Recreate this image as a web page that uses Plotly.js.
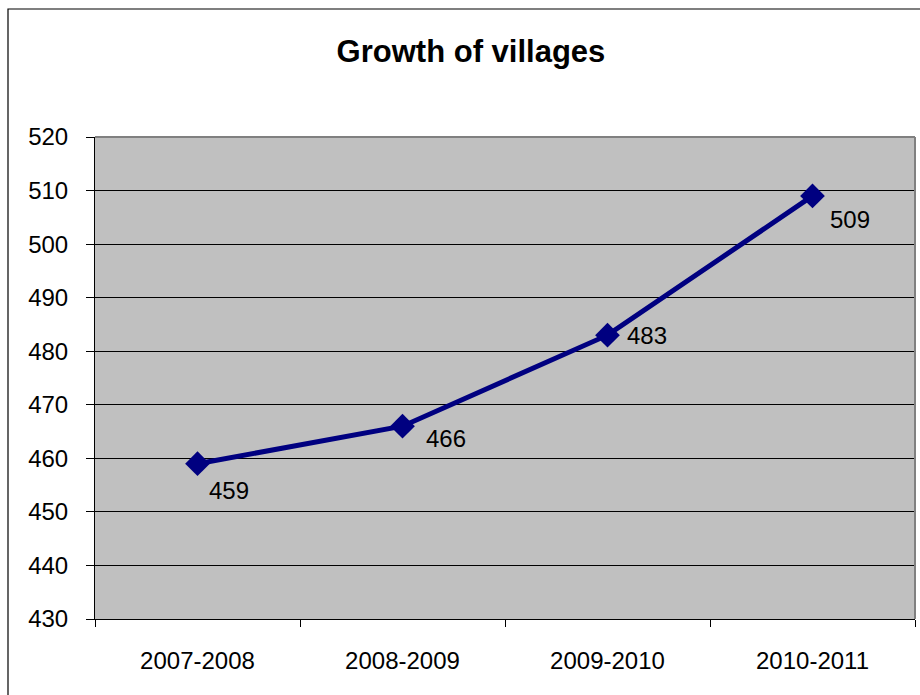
<!DOCTYPE html>
<html>
<head>
<meta charset="utf-8">
<script src="https://cdn.plot.ly/plotly-3.0.1.min.js"></script>
<style>
  html, body { margin: 0; padding: 0; background: #fff; }
  #chart { width: 920px; height: 695px; }
</style>
</head>
<body>
<div id="chart"></div>
<script>
const titleText = "Growth of villages";
const categories = ["2007-2008", "2008-2009", "2009-2010", "2010-2011"];
const villages = [459, 466, 483, 509];
const yTicks = [430, 440, 450, 460, 470, 480, 490, 500, 510, 520];

// label offsets (pixels) approximating the reference's label placement
const labelDx = [9, 21, 17, 15];
const labelDy = [-27, -12, 0, -24];

const FONT = "Liberation Sans, Arial, sans-serif";

const trace = {
  type: "scatter",
  mode: "lines+markers",
  x: categories,
  y: villages,
  line: { color: "#000080", width: 5 },
  marker: { symbol: "diamond", size: 19, color: "#000080" },
  hoverinfo: "x+y",
  showlegend: false
};

const annotations = categories.map((c, i) => ({
  x: c, y: villages[i], xref: "x", yref: "y",
  text: String(villages[i]),
  showarrow: false,
  xanchor: "left", yanchor: "middle",
  xshift: labelDx[i], yshift: labelDy[i],
  font: { family: FONT, size: 24, color: "#000" }
}));

const layout = {
  width: 920, height: 695,
  margin: { l: 95, r: 5, t: 137, b: 76, pad: 0 },
  paper_bgcolor: "#ffffff",
  plot_bgcolor: "#C0C0C0",
  font: { family: FONT, size: 24, color: "#000" },
  title: {
    text: "<b>" + titleText + "</b>",
    font: { family: FONT, size: 31, color: "#000" },
    x: 0.4585, xref: "paper", xanchor: "center",
    y: 0.926, yref: "container", yanchor: "middle"
  },
  xaxis: {
    type: "category",
    range: [-0.5, 3.5],
    tickson: "boundaries",
    ticks: "outside", ticklen: 7, tickcolor: "#000", tickwidth: 1,
    showline: true, linecolor: "#000", linewidth: 1,
    showgrid: false, zeroline: false,
    ticklabelstandoff: 20,
    tickfont: { family: FONT, size: 24, color: "#000" }
  },
  yaxis: {
    range: [430, 520],
    tickvals: yTicks,
    ticktext: yTicks.map(String),
    ticks: "outside", ticklen: 8, tickcolor: "#000", tickwidth: 1,
    showline: true, linecolor: "#000", linewidth: 1,
    showgrid: true, gridcolor: "#000", gridwidth: 1,
    zeroline: false,
    ticklabelstandoff: 13,
    tickfont: { family: FONT, size: 24, color: "#000" }
  },
  shapes: [
    { type: "rect", xref: "paper", yref: "paper",
      x0: (8 - 95) / 820, x1: 1.2, y0: -0.3, y1: (619 - 9) / 482,
      line: { color: "#000", width: 1.2 }, fillcolor: "rgba(0,0,0,0)", layer: "below" },
    { type: "line", xref: "paper", yref: "paper", x0: 0, x1: 1, y0: 1, y1: 1,
      line: { color: "#808080", width: 2 }, layer: "above" },
    { type: "line", xref: "paper", yref: "paper", x0: 1, x1: 1, y0: 0, y1: 1,
      line: { color: "#808080", width: 2 }, layer: "above" }
  ],
  annotations: annotations
};

Plotly.newPlot("chart", [trace], layout, { displayModeBar: false, staticPlot: true });
</script>
</body>
</html>
